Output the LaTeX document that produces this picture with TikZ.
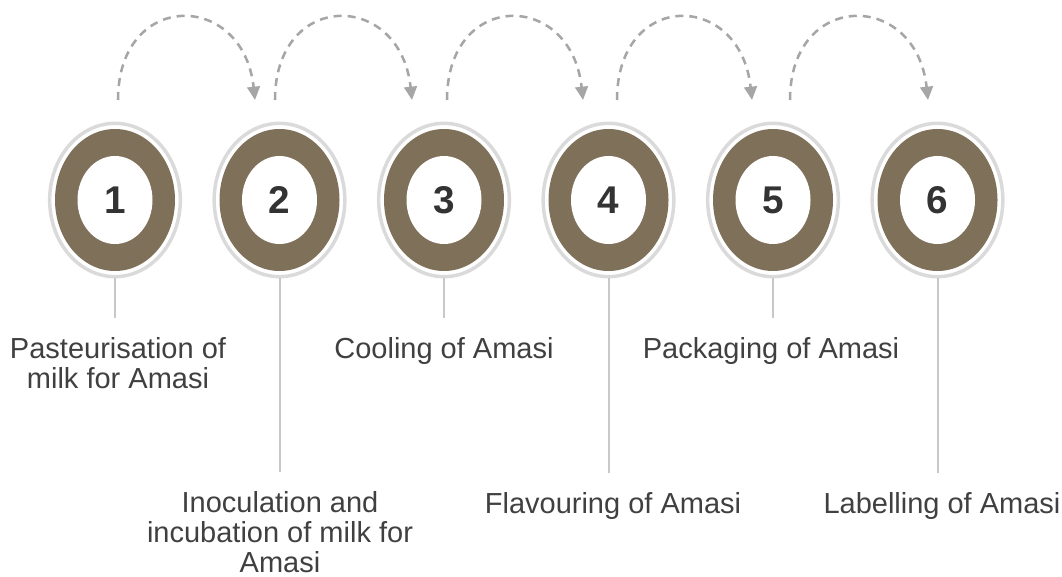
\documentclass[tikz,border=0pt]{standalone}
\usepackage{fontspec}
\setmainfont{Liberation Sans}
\usetikzlibrary{shapes.geometric,arrows.meta}

\definecolor{ringbrown}{RGB}{127,112,90}
\definecolor{ringgrey}{RGB}{218,218,218}
\definecolor{hopgrey}{RGB}{166,166,166}
\definecolor{stemgrey}{RGB}{200,200,200}
\definecolor{labelgrey}{RGB}{64,64,64}
\definecolor{numgrey}{RGB}{51,51,51}

\tikzset{every picture/.style={line width=0.75pt}}

\begin{document}
\begin{tikzpicture}[x=0.75pt,y=0.75pt,yscale=-1,xscale=1,
	outring/.style={ellipse,draw=ringgrey,line width=2.6pt,minimum width=98pt,minimum height=115pt,inner sep=0pt},
	midring/.style={ellipse,fill=ringbrown,minimum width=90pt,minimum height=106.5pt,inner sep=0pt},
	inring/.style={ellipse,fill=white,minimum width=56.25pt,minimum height=66pt,inner sep=0pt,text=numgrey,font=\fontsize{29}{31}\selectfont\bfseries},
	steplabel/.style={anchor=north,inner sep=0pt,align=center,text=labelgrey,font=\fontsize{21.75}{22.5}\selectfont},
	hop/.style={draw=hopgrey,line width=1.9pt,dash pattern=on 6pt off 4.5pt,-{Triangle[length=10pt,width=9.5pt]}},
	stem/.style={draw=stemgrey,line width=1.5pt,shorten >=14.5pt}]
	\useasboundingbox (0,0) rectangle (1062,577);

	%Shape: Ellipse [step 1]
	\node [outring] (o1) at (115,200) {};
	\node [midring] (m1) at (115,200) {};
	\node [inring] (n1) at (115,200) {1};
	%Shape: Ellipse [step 2]
	\node [outring] (o2) at (279.5,200) {};
	\node [midring] (m2) at (279.5,200) {};
	\node [inring] (n2) at (279.5,200) {2};
	%Shape: Ellipse [step 3]
	\node [outring] (o3) at (444,200) {};
	\node [midring] (m3) at (444,200) {};
	\node [inring] (n3) at (444,200) {3};
	%Shape: Ellipse [step 4]
	\node [outring] (o4) at (608.5,200) {};
	\node [midring] (m4) at (608.5,200) {};
	\node [inring] (n4) at (608.5,200) {4};
	%Shape: Ellipse [step 5]
	\node [outring] (o5) at (773,200) {};
	\node [midring] (m5) at (773,200) {};
	\node [inring] (n5) at (773,200) {5};
	%Shape: Ellipse [step 6]
	\node [outring] (o6) at (937.5,200) {};
	\node [midring] (m6) at (937.5,200) {};
	\node [inring] (n6) at (937.5,200) {6};

	% Text Node
	\node [steplabel] (l1) at (118,337) {Pasteurisation of\\milk for Amasi};
	% Text Node
	\node [steplabel] (l2) at (280,491) {Inoculation and\\incubation of milk for\\Amasi};
	% Text Node
	\node [steplabel] (l3) at (444,337) {Cooling of Amasi};
	% Text Node
	\node [steplabel] (l4) at (613,492) {Flavouring of Amasi};
	% Text Node
	\node [steplabel] (l5) at (771,337) {Packaging of Amasi};
	% Text Node
	\node [steplabel] (l6) at (942,492) {Labelling of Amasi};

	%Straight Lines
	\draw [stem] (o1.south) -- (o1.south |- l1.north) ;
	\draw [stem] (o2.south) -- (o2.south |- l2.north) ;
	\draw [stem] (o3.south) -- (o3.south |- l3.north) ;
	\draw [stem] (o4.south) -- (o4.south |- l4.north) ;
	\draw [stem] (o5.south) -- (o5.south |- l5.north) ;
	\draw [stem] (o6.south) -- (o6.south |- l6.north) ;

	%Curve Lines
	\coordinate (s1) at (118,100) ;
	\coordinate (e1) at (255,100) ;
	\coordinate (s2) at (275,100) ;
	\coordinate (e2) at (412,100) ;
	\coordinate (s3) at (447,100) ;
	\coordinate (e3) at (583,100) ;
	\coordinate (s4) at (617,100) ;
	\coordinate (e4) at (752,100) ;
	\coordinate (s5) at (790,100) ;
	\coordinate (e5) at (928,100) ;
	\draw [hop] (s1) .. controls +(0,-110) and +(-12,-110) .. (e1) ;
	\draw [hop] (s2) .. controls +(0,-110) and +(-12,-110) .. (e2) ;
	\draw [hop] (s3) .. controls +(0,-110) and +(-12,-110) .. (e3) ;
	\draw [hop] (s4) .. controls +(0,-110) and +(-12,-110) .. (e4) ;
	\draw [hop] (s5) .. controls +(0,-110) and +(-12,-110) .. (e5) ;

\end{tikzpicture}
\end{document}
